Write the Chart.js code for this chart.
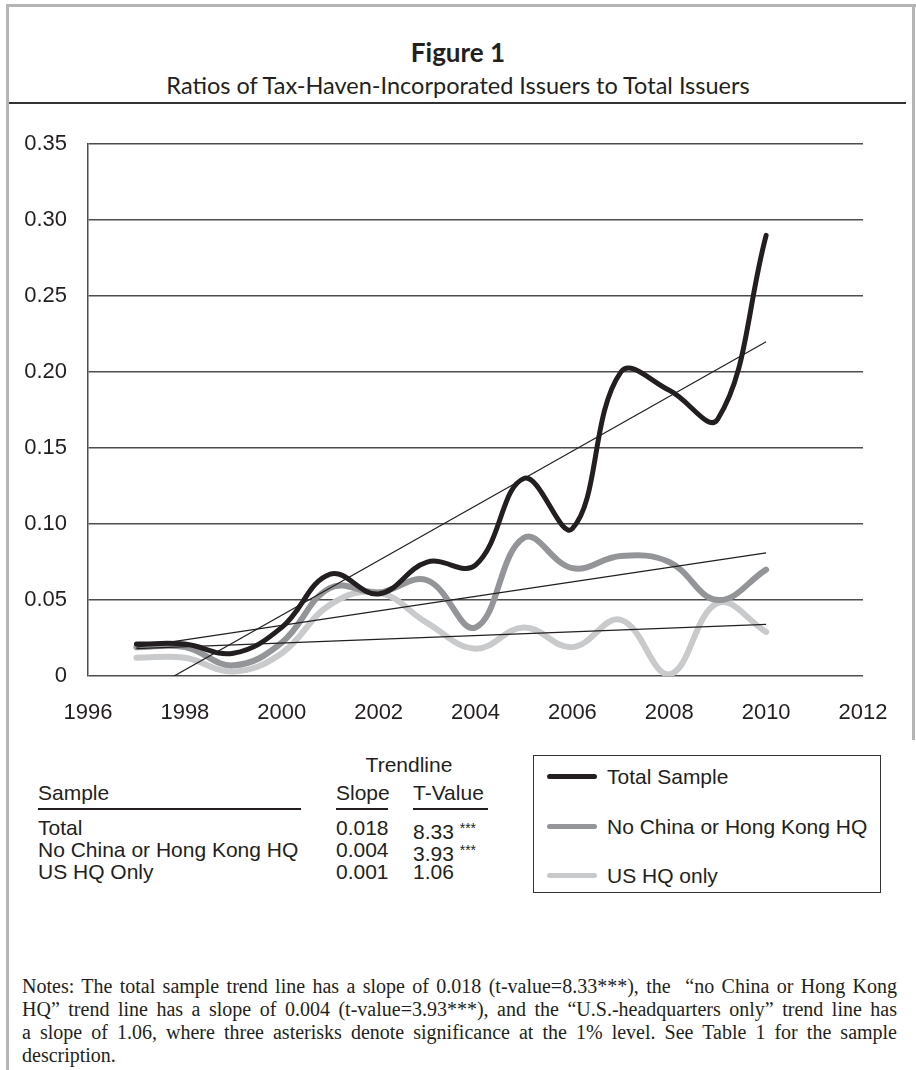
<!DOCTYPE html>
<html>
<head>
<meta charset="utf-8">
<script src="https://cdn.jsdelivr.net/npm/chart.js@4/dist/chart.umd.min.js"></script>
<style>
  body { margin: 0; background: #fff; }
  #page { position: relative; width: 916px; height: 1070px; overflow: hidden;
          font-family: "Liberation Sans", Arial, sans-serif; color: #231f20; }
  .abs { position: absolute; white-space: nowrap; }
  .frame { position: absolute; background: #b5b5b5; }
  #title { left: 0; width: 916px; top: 36px; text-align: center; font-family: Lato, sans-serif;
           font-weight: bold; font-size: 26px; line-height: 32px; }
  #subtitle { left: 0; width: 916px; top: 71px; text-align: center; font-family: Lato, sans-serif;
              font-size: 23.5px; line-height: 28px; }
  #rule { position: absolute; left: 9px; width: 897px; top: 102px; height: 2px; background: #333; }
  #chart { position: absolute; left: 0; top: 110px; }
  .tbl { font-size: 21px; line-height: 24px; }
  .uline { position: absolute; height: 1.5px; background: #231f20; top: 808px; }
  .stars { font-size: 14px; vertical-align: 6px; }
  #legend { position: absolute; left: 533px; top: 755px; width: 348px; height: 138px;
            box-sizing: border-box; border: 1px solid #333; }
  .lg-line { position: absolute; width: 50px; height: 5px; border-radius: 3px; }
  .lg-text { position: absolute; font-size: 21px; line-height: 24px; white-space: nowrap; }
  #notes { position: absolute; left: 22px; width: 875px; top: 975px;
           font-family: "Liberation Serif", "Times New Roman", serif; font-size: 20px; line-height: 23px; }
  #notes div { text-align: justify; text-align-last: justify; white-space: nowrap; }
  #notes div.last { text-align-last: left; }
</style>
</head>
<body>
<div id="page">
  <div class="frame" style="left:6px; top:4px; width:3px; height:1066px;"></div>
  <div class="frame" style="left:6px; top:4px; width:910px; height:3px;"></div>
  <div class="frame" style="left:912px; top:4px; width:3px; height:736px;"></div>

  <div id="title" class="abs">Figure 1</div>
  <div id="subtitle" class="abs">Ratios of Tax-Haven-Incorporated Issuers to Total Issuers</div>
  <div id="rule"></div>

  <canvas id="chart" width="916" height="620"></canvas>

  <div class="abs tbl" style="left:359px; width:100px; text-align:center; top:753px;">Trendline</div>
  <div class="abs tbl" style="left:38px; top:781px;">Sample</div>
  <div class="abs tbl" style="left:336px; top:781px;">Slope</div>
  <div class="abs tbl" style="left:413px; top:781px;">T-Value</div>
  <div class="uline" style="left:38px; width:263px;"></div>
  <div class="uline" style="left:336px; width:52px;"></div>
  <div class="uline" style="left:413px; width:75px;"></div>
  <div id="table-rows"></div>

  <div id="legend"></div>

  <div id="notes">
    <div>Notes: The total sample trend line has a slope of 0.018 (t-value=8.33***), the &nbsp;“no China or Hong Kong</div>
    <div>HQ” trend line has a slope of 0.004 (t-value=3.93***), and the “U.S.-headquarters only” trend line has</div>
    <div>a slope of 1.06, where three asterisks denote significance at the 1% level. See Table 1 for the sample</div>
    <div class="last">description.</div>
  </div>
</div>

<script>
const years = [1997, 1998, 1999, 2000, 2001, 2002, 2003, 2004, 2005, 2006, 2007, 2008, 2009, 2010];
const totalSample = [0.021, 0.021, 0.015, 0.032, 0.067, 0.054, 0.075, 0.073, 0.130, 0.097, 0.200, 0.188, 0.169, 0.290];
const noChinaHK = [0.019, 0.019, 0.007, 0.022, 0.058, 0.055, 0.063, 0.032, 0.091, 0.071, 0.079, 0.075, 0.050, 0.070];
const usHQOnly = [0.012, 0.012, 0.003, 0.015, 0.047, 0.055, 0.035, 0.018, 0.032, 0.019, 0.037, 0.001, 0.048, 0.029];

const trendYears = [1997, 2010];
const totalTrend = [-0.014, 0.220];
const noChinaTrend = [0.019, 0.081];
const usTrend = [0.018, 0.034];

const xTicks = [1996, 1998, 2000, 2002, 2004, 2006, 2008, 2010, 2012];
const yTicks = [0, 0.05, 0.10, 0.15, 0.20, 0.25, 0.30, 0.35];

const tableSamples = ['Total', 'No China or Hong Kong HQ', 'US HQ Only'];
const tableSlopes = ['0.018', '0.004', '0.001'];
const tableTValues = ['8.33', '3.93', '1.06'];
const tableStars = ['***', '***', ''];

const ink = '#231f20';
const series = [
  { label: 'Total Sample', data: totalSample, color: '#231f20', width: 5 },
  { label: 'No China or Hong Kong HQ', data: noChinaHK, color: '#939598', width: 6 },
  { label: 'US HQ only', data: usHQOnly, color: '#c9cacc', width: 6 },
];
const trends = [totalTrend, noChinaTrend, usTrend];

function toPoints(xs, ys) {
  return xs.map((x, i) => ({ x: x, y: ys[i] }));
}

const datasets = [];
trends.forEach((t) => {
  datasets.push({
    data: toPoints(trendYears, t),
    borderColor: ink,
    borderWidth: 1.2,
    pointRadius: 0,
    tension: 0,
    order: 0,
  });
});
series.forEach((s, i) => {
  datasets.push({
    label: s.label,
    data: toPoints(years, s.data),
    borderColor: s.color,
    borderWidth: s.width,
    pointRadius: 0,
    tension: 0.4,
    borderCapStyle: 'round',
    borderJoinStyle: 'round',
    order: i + 1,
  });
});

const tickFont = { family: '"Liberation Sans", Arial, sans-serif', size: 22 };

new Chart(document.getElementById('chart'), {
  type: 'line',
  data: { datasets: datasets },
  options: {
    responsive: false,
    animation: false,
    layout: { padding: { top: 23, right: 53, left: 0, bottom: 0 } },
    plugins: { legend: { display: false }, tooltip: { enabled: false } },
    scales: {
      x: {
        type: 'linear',
        min: 1996,
        max: 2012,
        afterBuildTicks: (scale) => { scale.ticks = xTicks.map((v) => ({ value: v })); },
        afterFit: (scale) => { scale.height = 54; },
        ticks: { callback: (v) => String(v), font: tickFont, color: ink, padding: 16, maxRotation: 0, autoSkip: false },
        grid: { display: false },
        border: { display: false },
      },
      y: {
        min: 0,
        max: 0.35,
        afterBuildTicks: (scale) => { scale.ticks = yTicks.map((v) => ({ value: v })); },
        afterFit: (scale) => { scale.width = 88; },
        ticks: { callback: (v) => (v === 0 ? '0' : v.toFixed(2)), font: tickFont, color: ink, padding: 21 },
        grid: { color: '#4d4d4d', lineWidth: 1.5, drawTicks: false },
        border: { display: true, color: '#4d4d4d', width: 1.5 },
      },
    },
  },
});

// table under the chart
const rowTops = [816, 838, 860];
const rows = document.getElementById('table-rows');
tableSamples.forEach((name, i) => {
  const top = rowTops[i] + 'px';
  rows.insertAdjacentHTML('beforeend',
    '<div class="abs tbl" style="left:38px; top:' + top + ';">' + name + '</div>' +
    '<div class="abs tbl" style="left:336px; top:' + top + ';">' + tableSlopes[i] + '</div>' +
    '<div class="abs tbl" style="left:413px; top:' + top + ';">' + tableTValues[i] +
    (tableStars[i] ? ' <span class="stars">' + tableStars[i] + '</span>' : '') + '</div>');
});

// legend box
const legend = document.getElementById('legend');
const legendRows = [21, 71, 120];
series.forEach((s, i) => {
  const cy = legendRows[i];
  legend.insertAdjacentHTML('beforeend',
    '<div class="lg-line" style="left:13px; top:' + (cy - 3) + 'px; background:' + s.color + ';"></div>' +
    '<div class="lg-text" style="left:73px; top:' + (cy - 12) + 'px;">' + s.label + '</div>');
});
</script>
</body>
</html>
